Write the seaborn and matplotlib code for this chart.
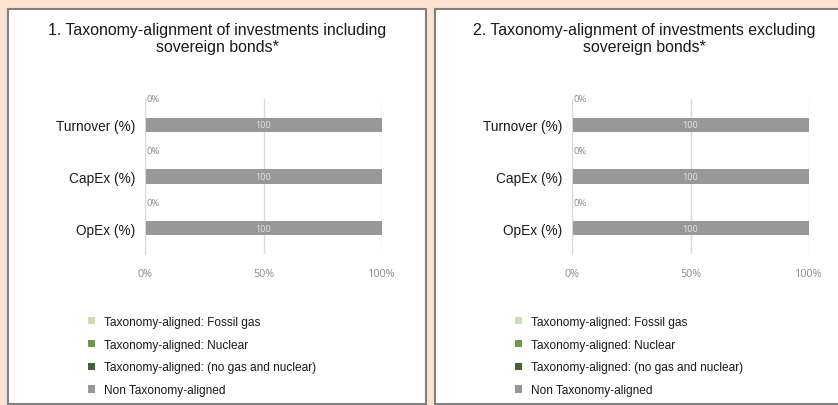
import numpy as np
import seaborn as sns
import matplotlib.pyplot as plt
from matplotlib.patches import Rectangle, Patch

# chart data
categories = ["Turnover (%)", "CapEx (%)", "OpEx (%)"]
titles = ["1. Taxonomy-alignment of investments including\nsovereign bonds*",
          "2. Taxonomy-alignment of investments excluding\nsovereign bonds*"]
series_names = ["Taxonomy-aligned: Fossil gas", "Taxonomy-aligned: Nuclear",
                "Taxonomy-aligned: (no gas and nuclear)", "Non Taxonomy-aligned"]
series_colors = ["#c6e0b4", "#6a9948", "#3e642e", "#97989a"]

# chart 1 (including sovereign bonds)
fossil_gas_1 = [0, 0, 0]
nuclear_1 = [0, 0, 0]
aligned_1 = [0, 0, 0]
non_aligned_1 = [100, 100, 100]

# chart 2 (excluding sovereign bonds)
fossil_gas_2 = [0, 0, 0]
nuclear_2 = [0, 0, 0]
aligned_2 = [0, 0, 0]
non_aligned_2 = [100, 100, 100]

x_ticks = [0, 50, 100]
x_ticklabels = ["0%", "50%", "100%"]

sns.set_style("white")
plt.rcParams['font.family'] = ['Liberation Sans', 'DejaVu Sans']

W, H = 838, 406
fig = plt.figure(figsize=(W / 100, H / 100), dpi=100)
fig.patch.set_facecolor("#fde3d0")


def px(x0, y0, w, h):
    # pixel box (top-left origin) -> figure fraction
    return [x0 / W, 1 - (y0 + h) / H, w / W, h / H]


panel_left = [8, 435]
for p, (left, title) in enumerate(zip(panel_left, titles)):
    fig.patches.append(Rectangle((left / W, 1.5 / H), 418 / W, (H - 11.5) / H,
                                 transform=fig.transFigure, facecolor="white",
                                 edgecolor="#808080", lw=1.5, zorder=-1))
    fig.text((left + 209) / W, 1 - 23 / H, title, ha="center", va="top",
             fontsize=11.4, color="#1a1a1a", linespacing=1.15)

data = [
    (fossil_gas_1, nuclear_1, aligned_1, non_aligned_1),
    (fossil_gas_2, nuclear_2, aligned_2, non_aligned_2),
]

for p, left in enumerate(panel_left):
    ax = fig.add_axes(px(left + 137, 100, 237, 155))
    ax.set_facecolor("none")
    series = [np.array(s, dtype=float) for s in data[p]]
    cums = np.cumsum(series, axis=0)
    # draw the stack from the outermost segment inward
    for k in range(len(series) - 1, -1, -1):
        sns.barplot(x=cums[k], y=categories, color=series_colors[k], width=0.28,
                    orient="h", ax=ax, saturation=1, linewidth=0, zorder=2)
    # value label inside the non-aligned segment
    starts = cums[-2]
    for i, v in enumerate(series[-1]):
        ax.text(starts[i] + v / 2, i, f"{v:g}", ha="center", va="center",
                fontsize=6.6, color="#e4e4e4", family="Open Sans", zorder=3)
    # label for taxonomy-aligned share
    aligned_total = cums[-2]
    for i, v in enumerate(aligned_total):
        ax.text(v + 0.6, i - 0.5, f"{v:g}%", ha="left", va="center",
                fontsize=6.8, color="#8c8c8c", family="Open Sans", zorder=3)

    ax.set_xlim(0, 100)
    ax.set_ylim(len(categories) - 0.5, -0.5)
    ax.set_xticks(x_ticks)
    ax.set_xticklabels(x_ticklabels, family="Open Sans", fontsize=7.8, color="#8c8c8c")
    ax.xaxis.grid(True, color="#d9d9d9", lw=1)
    ax.set_axisbelow(True)
    ax.tick_params(axis="x", length=0, pad=10)
    ax.tick_params(axis="y", which="major", length=0, pad=7, labelsize=9.8,
                   labelcolor="#1a1a1a")
    ax.set_yticks(np.arange(len(categories) + 1) - 0.5, minor=True)
    ax.tick_params(axis="y", which="minor", length=3, color="#d9d9d9", direction="out")
    ax.set_xlabel("")
    ax.set_ylabel("")
    for s in ["top", "right", "bottom"]:
        ax.spines[s].set_visible(False)
    ax.spines["left"].set_color("#d9d9d9")

    handles = [Patch(facecolor=c, edgecolor="none") for c in series_colors]
    fig.legend(handles, series_names, loc="upper left",
               bbox_to_anchor=((left + 80) / W, 1 - 317 / H), frameon=False,
               fontsize=8.6, handlelength=0.55, handleheight=0.55,
               handletextpad=0.75, labelspacing=0.9, borderpad=0,
               borderaxespad=0, labelcolor="#1a1a1a")

fig.savefig("out.png", dpi=100, facecolor=fig.get_facecolor())
